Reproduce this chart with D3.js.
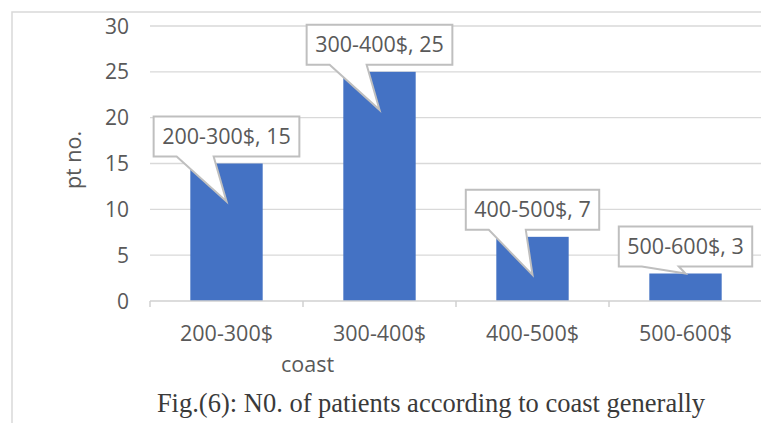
<!DOCTYPE html>
<html>
<head>
<meta charset="utf-8">
<script src="https://cdn.jsdelivr.net/npm/d3@7"></script>
<style>
	body { margin: 0; background: #fff; }
	svg text { font-family: "Open Sans", sans-serif; fill: #595959; }
	svg text.caption { font-family: "Liberation Serif", serif; fill: #3a3a3a; }
</style>
</head>
<body>
<svg id="chart" width="761" height="423"></svg>
<script>
var categories = ["200-300$", "300-400$", "400-500$", "500-600$"];
var counts = [15, 25, 7, 3];
var yTicks = [0, 5, 10, 15, 20, 25, 30];

var svg = d3.select("#chart");

// outer chart frame, runs off the right and bottom of the shot
svg.append("rect").attr("x", 12).attr("y", 12).attr("width", 800).attr("height", 500)
	.attr("fill", "none").attr("stroke", "#d9d9d9").attr("stroke-width", 1.5);

var x = d3.scaleBand().domain(categories).range([150, 762]).paddingInner(0.527).paddingOuter(0.2635);
var y = d3.scaleLinear().domain([0, 30]).range([301, 26]);

// gridlines
svg.selectAll("line.grid").data(yTicks.slice(1)).enter().append("line")
	.attr("class", "grid")
	.attr("x1", 150).attr("x2", 762)
	.attr("y1", function (d) { return y(d); }).attr("y2", function (d) { return y(d); })
	.attr("stroke", "#d9d9d9").attr("stroke-width", 1.3);

// y tick labels
svg.selectAll("text.ytick").data(yTicks).enter().append("text")
	.attr("class", "ytick")
	.attr("x", 129).attr("y", function (d) { return y(d); })
	.attr("dy", "0.36em").attr("text-anchor", "end")
	.style("font-size", "21px")
	.text(function (d) { return d; });

// bars
svg.selectAll("rect.bar").data(counts).enter().append("rect")
	.attr("class", "bar")
	.attr("x", function (d, i) { return x(categories[i]); })
	.attr("y", function (d) { return y(d); })
	.attr("width", x.bandwidth())
	.attr("height", function (d) { return y(0) - y(d); })
	.attr("fill", "#4472c4");

// x axis line + ticks at band edges
svg.append("line").attr("x1", 150).attr("x2", 762).attr("y1", y(0)).attr("y2", y(0))
	.attr("stroke", "#d0d0d0").attr("stroke-width", 1.5);
svg.selectAll("line.xtick").data(d3.range(categories.length + 1)).enter().append("line")
	.attr("class", "xtick")
	.attr("x1", function (i) { return 150 + i * x.step(); })
	.attr("x2", function (i) { return 150 + i * x.step(); })
	.attr("y1", y(0)).attr("y2", y(0) + 6)
	.attr("stroke", "#d0d0d0").attr("stroke-width", 1.5);

svg.selectAll("text.xlab").data(categories).enter().append("text")
	.attr("class", "xlab")
	.attr("x", function (d) { return x(d) + x.bandwidth() / 2; })
	.attr("y", 341).attr("text-anchor", "middle")
	.style("font-size", "21.5px")
	.text(function (d) { return d; });

// axis titles
svg.append("text").attr("x", 307.5).attr("y", 372).attr("text-anchor", "middle")
	.style("font-size", "21.5px").text("coast");
svg.append("text").attr("transform", "translate(81,160) rotate(-90)").attr("text-anchor", "middle")
	.style("font-size", "21.5px").text("pt no.");

// callout labels
counts.forEach(function (v, i) {
	var label = categories[i] + ", " + v;
	var cx = x(categories[i]) + x.bandwidth() / 2;
	var top = y(v);
	var barH = y(0) - top;
	var g = svg.append("g");
	var path = g.append("path");
	var t = g.append("text").attr("x", cx).attr("text-anchor", "middle")
		.style("font-size", "21.5px").text(label);
	var w = t.node().getComputedTextLength() + 17;
	var bh = 40;
	var bottom = top - 7;
	var bTop = bottom - bh;
	var left = cx - w / 2, right = cx + w / 2;
	var tipY = barH > 40 ? top + 38 : top;
	var d = "M" + left + "," + bTop + "H" + right + "V" + bottom +
		"H" + (left + 60) + "L" + cx + "," + tipY + "L" + (left + 23) + "," + bottom +
		"H" + left + "Z";
	path.attr("d", d).attr("fill", "#fff").attr("stroke", "#bfbfbf").attr("stroke-width", 2)
		.attr("stroke-linejoin", "miter");
	t.attr("y", bTop + 27);
});

// caption
svg.append("text").attr("class", "caption")
	.attr("x", 431).attr("y", 412).attr("text-anchor", "middle")
	.style("font-size", "26.5px")
	.text("Fig.(6): N0. of patients according to coast generally");
</script>
</body>
</html>
